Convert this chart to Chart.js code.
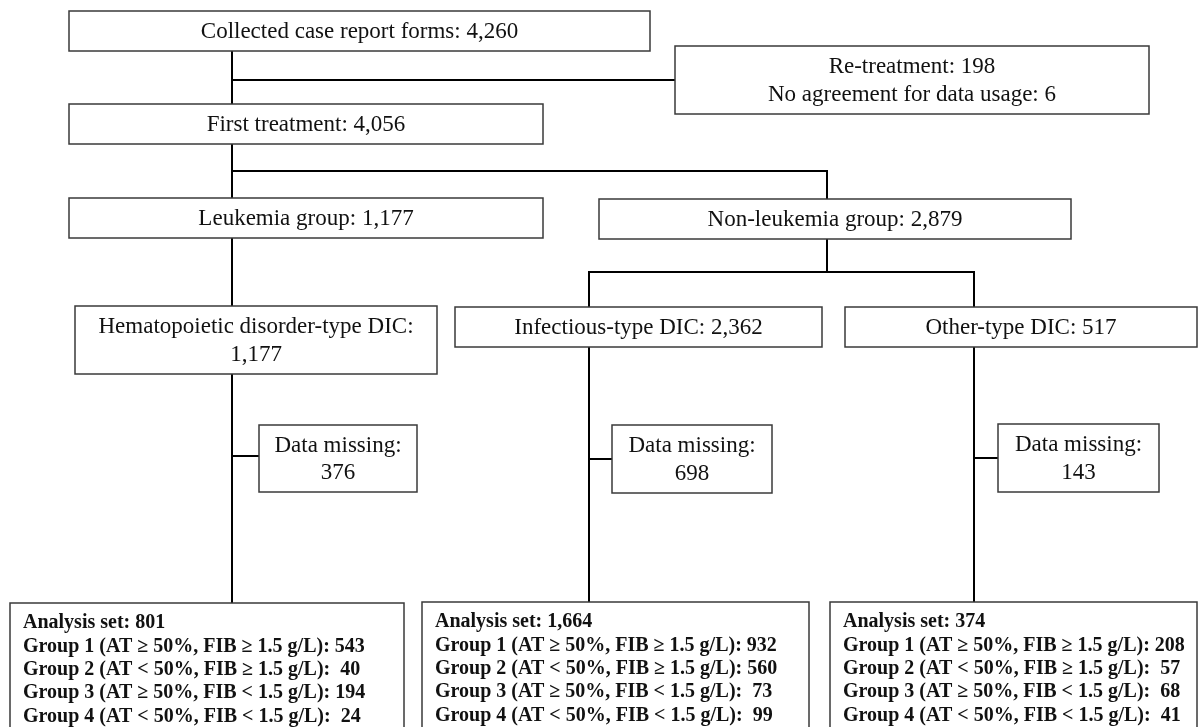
<!DOCTYPE html>
<html>
<head>
<meta charset="utf-8">
<script src="https://cdn.jsdelivr.net/npm/chart.js@4.4.1/dist/chart.umd.min.js"></script>
<style>
  html, body { margin: 0; padding: 0; background: #fff; }
  #wrap { width: 1198px; height: 727px; position: relative; }
</style>
</head>
<body>
<div id="wrap"><canvas id="flow"></canvas></div>
<script>
// counts
const flowLabels = ['Collected case report forms', 'First treatment', 'Leukemia group', 'Non-leukemia group',
    'Hematopoietic disorder-type DIC', 'Infectious-type DIC', 'Other-type DIC'];
const flowCounts = [4260, 4056, 1177, 2879, 1177, 2362, 517];
const excludedLabels = ['Re-treatment', 'No agreement for data usage'];
const excludedCounts = [198, 6];
const missingCounts = [376, 698, 143];
const analysisCounts = [801, 1664, 374];
const groupLabels = ['Group 1 (AT \u2265 50%, FIB \u2265 1.5 g/L)', 'Group 2 (AT < 50%, FIB \u2265 1.5 g/L)',
    'Group 3 (AT \u2265 50%, FIB < 1.5 g/L)', 'Group 4 (AT < 50%, FIB < 1.5 g/L)'];
const hematoGroupCounts = [543, 40, 194, 24];
const infectiousGroupCounts = [932, 560, 73, 99];
const otherGroupCounts = [208, 57, 68, 41];

function fmt(n) {
    return String(n).replace(/\B(?=(\d{3})+(?!\d))/g, ',');
}

function analysisLines(total, counts) {
    const out = ['Analysis set: ' + fmt(total)];
    for (let i = 0; i < groupLabels.length; i++) {
        out.push(groupLabels[i] + ': ' + (counts[i] < 100 ? ' ' : '') + counts[i]);
    }
    return out;
}

// layout of the boxes (chart units = pixels of the 1198 x 727 page)
const boxes = [
    { x0: 69, x1: 650, y0: 11, y1: 51, lines: [flowLabels[0] + ': ' + fmt(flowCounts[0])] },
    { x0: 675, x1: 1149, y0: 46, y1: 114,
      lines: [excludedLabels[0] + ': ' + excludedCounts[0], excludedLabels[1] + ': ' + excludedCounts[1]] },
    { x0: 69, x1: 543, y0: 104, y1: 144, lines: [flowLabels[1] + ': ' + fmt(flowCounts[1])] },
    { x0: 69, x1: 543, y0: 198, y1: 238, lines: [flowLabels[2] + ': ' + fmt(flowCounts[2])] },
    { x0: 599, x1: 1071, y0: 199, y1: 239, lines: [flowLabels[3] + ': ' + fmt(flowCounts[3])] },
    { x0: 75, x1: 437, y0: 306, y1: 374, lines: [flowLabels[4] + ':', fmt(flowCounts[4])] },
    { x0: 455, x1: 822, y0: 307, y1: 347, lines: [flowLabels[5] + ': ' + fmt(flowCounts[5])] },
    { x0: 845, x1: 1197, y0: 307, y1: 347, lines: [flowLabels[6] + ': ' + fmt(flowCounts[6])] },
    { x0: 259, x1: 417, y0: 425, y1: 492, lines: ['Data missing:', String(missingCounts[0])] },
    { x0: 612, x1: 772, y0: 425, y1: 493, lines: ['Data missing:', String(missingCounts[1])] },
    { x0: 998, x1: 1159, y0: 424, y1: 492, lines: ['Data missing:', String(missingCounts[2])] },
    { x0: 10, x1: 404, y0: 603, y1: 740, bold: true, lines: analysisLines(analysisCounts[0], hematoGroupCounts) },
    { x0: 422, x1: 809, y0: 602, y1: 740, bold: true, lines: analysisLines(analysisCounts[1], infectiousGroupCounts) },
    { x0: 830, x1: 1197, y0: 602, y1: 740, bold: true, lines: analysisLines(analysisCounts[2], otherGroupCounts) }
];

// connector polylines
const connectors = [
    [[232, 51], [232, 104]],
    [[232, 80], [675, 80]],
    [[232, 144], [232, 198]],
    [[232, 171], [827, 171], [827, 199]],
    [[232, 238], [232, 306]],
    [[827, 239], [827, 272]],
    [[589, 307], [589, 272], [974, 272], [974, 307]],
    [[232, 374], [232, 603]],
    [[232, 456], [259, 456]],
    [[589, 347], [589, 602]],
    [[589, 459], [612, 459]],
    [[974, 347], [974, 602]],
    [[974, 458], [998, 458]]
];

const boxPlugin = {
    id: 'flowBoxes',
    afterDatasetsDraw(chart) {
        const ctx = chart.ctx;
        const sx = chart.scales.x, sy = chart.scales.y;
        ctx.save();
        boxes.forEach(b => {
            const x0 = sx.getPixelForValue(b.x0), x1 = sx.getPixelForValue(b.x1);
            const y0 = sy.getPixelForValue(b.y0), y1 = sy.getPixelForValue(b.y1);
            ctx.fillStyle = '#fff';
            ctx.fillRect(x0, y0, x1 - x0, y1 - y0);
            ctx.strokeStyle = '#3a3a3a';
            ctx.lineWidth = 1.5;
            ctx.strokeRect(x0, y0, x1 - x0, y1 - y0);
            ctx.fillStyle = '#111';
            ctx.textBaseline = 'middle';
            if (b.bold) {
                ctx.font = 'bold 20px "Liberation Serif"';
                ctx.textAlign = 'left';
                b.lines.forEach((t, i) => ctx.fillText(t, x0 + 13, y0 + 20 + i * 23.4));
            } else {
                ctx.font = '23px "Liberation Serif"';
                ctx.textAlign = 'center';
                const lh = 27.5;
                const cy = (y0 + y1) / 2 - (b.lines.length - 1) * lh / 2;
                b.lines.forEach((t, i) => ctx.fillText(t, (x0 + x1) / 2, cy + i * lh + 1));
            }
        });
        ctx.restore();
    }
};

new Chart(document.getElementById('flow'), {
    type: 'scatter',
    data: {
        datasets: connectors.map(pts => ({
            data: pts.map(p => ({ x: p[0], y: p[1] })),
            showLine: true,
            borderColor: '#000',
            borderWidth: 2,
            pointRadius: 0,
            fill: false,
            tension: 0
        }))
    },
    options: {
        responsive: true,
        maintainAspectRatio: false,
        animation: false,
        layout: { padding: 0 },
        plugins: { legend: { display: false }, tooltip: { enabled: false } },
        scales: {
            x: { type: 'linear', min: 0, max: 1198, display: false },
            y: { type: 'linear', min: 0, max: 727, reverse: true, display: false }
        }
    },
    plugins: [boxPlugin]
});
</script>
</body>
</html>
